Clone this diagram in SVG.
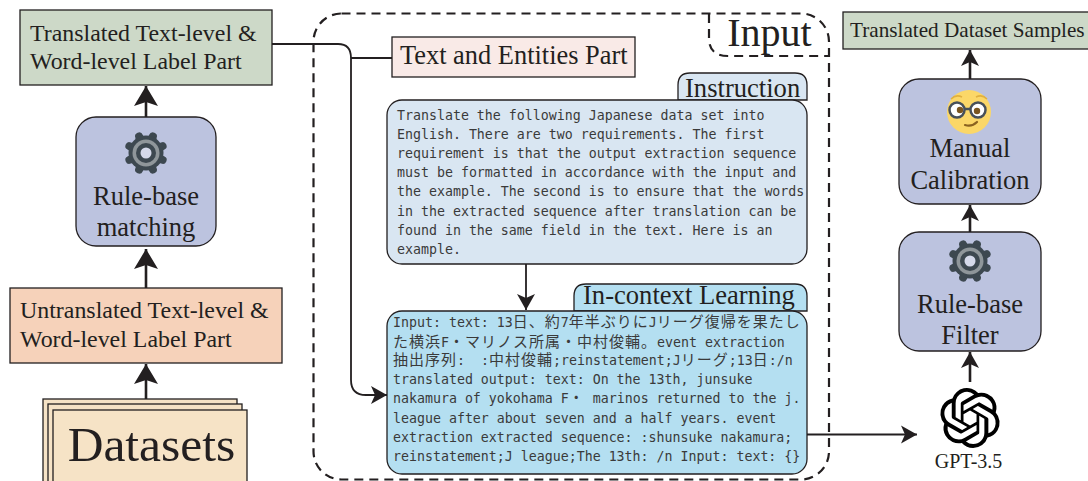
<svg xmlns="http://www.w3.org/2000/svg" width="1088" height="481" viewBox="0 0 1088 481">
<style>
text{font-family:"Liberation Serif","Times New Roman",serif;fill:#231f20}
.c{text-anchor:middle}
.b{stroke:#231f20;stroke-width:1.3}
.green{fill:#cdd9c8}.purple{fill:#bcc3df}.orange{fill:#f6d2ba}.cream{fill:#f6e3c6}.pink{fill:#f9eae7}.pale{fill:#d9e6f2}.sky{fill:#b4dff1}
.m{font-family:"DejaVu Sans Mono","Liberation Mono",monospace;font-size:13.27px;fill:#3a3a3a;white-space:pre}
.j{font-family:"Noto Sans CJK JP",sans-serif;font-size:15px;letter-spacing:1px}
.dash{fill:none;stroke:#231f20;stroke-width:2.2;stroke-dasharray:9 6}
.line{fill:none;stroke:#231f20;stroke-width:1.8}
.thick{fill:none;stroke:#231f20;stroke-width:2.6}
</style>
<defs>
<marker id="big" markerUnits="userSpaceOnUse" markerWidth="22" markerHeight="26" refX="20" refY="13" orient="auto"><path d="M20 13 L0 1 L4 13 L0 25Z" fill="#231f20"/></marker>
<marker id="mid" markerUnits="userSpaceOnUse" markerWidth="18" markerHeight="20" refX="16" refY="10" orient="auto"><path d="M16 10 L0 1 L4 10 L0 19Z" fill="#231f20"/></marker>
<g id="gear">
<g stroke="#3d4850" stroke-width="8" stroke-linecap="round" transform="rotate(22.5)">
<path d="M0-18V18M-18 0H18M-12.700-12.700L12.700 12.700M-12.700 12.700L12.700-12.700"/>
</g>
<circle r="17.500" fill="#3d4850"/>
<circle r="13.500" fill="#8f969a"/>
<circle r="10" fill="#3d4850"/>
<circle r="5.500" fill="#d5d9ea"/>
</g>
</defs>

<g id="connectors">
<path class="thick" d="M146 117V86" marker-end="url(#big)"/>
<path class="thick" d="M146 288V249" marker-end="url(#big)"/>
<path class="thick" d="M146 399V364" marker-end="url(#big)"/>
<path class="line" d="M272 44H338Q351 44 351 58V380Q351 395 366 395H387" marker-end="url(#mid)"/>
<path class="line" d="M351 58H392"/>
<path class="line" d="M526 264V310" marker-end="url(#mid)"/>
<path class="line" d="M807 434.500H917" marker-end="url(#mid)"/>
<path class="thick" d="M970 382V352" marker-end="url(#mid)"/>
<path class="thick" d="M970 232V205" marker-end="url(#mid)"/>
<path class="thick" d="M970 79V50" marker-end="url(#mid)"/>
</g>

<g id="input-frame">
<rect class="dash" x="313.500" y="13.500" width="515.500" height="466" rx="28"/>
<path class="dash" d="M709 14V38Q709 56 728 56H829"/>
<text x="769.500" y="46" class="c" font-size="40">Input</text>
</g>

<g id="translated-labels">
<rect class="green b" x="20" y="10" width="252" height="75"/>
<text x="30" y="41" font-size="23.900">Translated Text-level &amp;</text>
<text x="30" y="69" font-size="23.900">Word-level Label Part</text>
</g>

<g id="rule-matching">
<rect class="purple b" x="76" y="117" width="140" height="129" rx="20"/>
<use href="#gear" x="146" y="153"/>
<text x="146" y="205" class="c" font-size="26.500">Rule-base</text>
<text x="146" y="236" class="c" font-size="26.500">matching</text>
</g>

<g id="untranslated-labels">
<rect class="orange b" x="10" y="288" width="272" height="75"/>
<text x="20" y="318" font-size="23.900">Untranslated Text-level &amp;</text>
<text x="20" y="347" font-size="23.900">Word-level Label Part</text>
</g>

<g id="datasets">
<rect class="cream b" x="43" y="399" width="194" height="90"/>
<rect class="cream b" x="48" y="404" width="194" height="90"/>
<rect class="cream b" x="53" y="410" width="194" height="90"/>
<text x="151.500" y="461" class="c" font-size="49.500">Datasets</text>
</g>

<g id="text-entities">
<rect class="pink b" x="392" y="37" width="243" height="40"/>
<text x="400" y="64" font-size="26.400">Text and Entities Part</text>
</g>

<g id="instruction">
<path class="pale b" d="M678 100V85Q678 73 690 73H795Q807 73 807 85V100Z"/>
<text x="685" y="97" font-size="26.600">Instruction</text>
<rect class="pale b" x="387" y="100" width="420" height="164" rx="15"/>
<text class="m" x="397" y="120">Translate the following Japanese data set into</text>
<text class="m" x="397" y="139">English. There are two requirements. The first</text>
<text class="m" x="397" y="158">requirement is that the output extraction sequence</text>
<text class="m" x="397" y="177">must be formatted in accordance with the input and</text>
<text class="m" x="397" y="196">the example. The second is to ensure that the words</text>
<text class="m" x="397" y="216">in the extracted sequence after translation can be</text>
<text class="m" x="397" y="235">found in the same field in the text. Here is an</text>
<text class="m" x="397" y="254">example.</text>
</g>

<g id="in-context">
<path class="sky b" d="M574 311V296Q574 284 586 284H795Q807 284 807 296V311Z"/>
<text x="583" y="304" font-size="26.600">In-context Learning</text>
<rect class="sky b" x="387" y="311" width="420" height="163" rx="15"/>
<text class="m" x="393" y="327">Input: text: 13<tspan class="j">日、約</tspan>7<tspan class="j">年半ぶりに</tspan>J<tspan class="j">リーグ復帰を果たし</tspan></text>
<text class="m" x="393" y="347"><tspan class="j">た横浜</tspan>F<tspan class="j">・マリノス所属・中村俊輔。</tspan>event extraction</text>
<text class="m" x="393" y="365"><tspan class="j">抽出序列</tspan>:  :<tspan class="j">中村俊輔</tspan>;reinstatement;J<tspan class="j">リーグ</tspan>;13<tspan class="j">日</tspan>:/n</text>
<text class="m" x="393" y="384">translated output: text: On the 13th, junsuke</text>
<text class="m" x="393" y="403">nakamura of yokohama F<tspan class="j">・</tspan> marinos returned to the j.</text>
<text class="m" x="393" y="423">league after about seven and a half years. event</text>
<text class="m" x="393" y="442">extraction extracted sequence: :shunsuke nakamura;</text>
<text class="m" x="393" y="461">reinstatement;J league;The 13th: /n Input: text: {}</text>
</g>

<g id="gpt">
<path transform="translate(940 388) scale(2.5)" fill="#000" d="M22.2819 9.8211a5.9847 5.9847 0 0 0-.5157-4.9108 6.0462 6.0462 0 0 0-6.5098-2.9A6.0651 6.0651 0 0 0 4.9807 4.1818a5.9847 5.9847 0 0 0-3.9977 2.9 6.0462 6.0462 0 0 0 .7427 7.0966 5.98 5.98 0 0 0 .511 4.9107 6.051 6.051 0 0 0 6.5146 2.9001A5.9847 5.9847 0 0 0 13.2599 24a6.0557 6.0557 0 0 0 5.7718-4.2058 5.9894 5.9894 0 0 0 3.9977-2.9001 6.0557 6.0557 0 0 0-.7475-7.0729zm-9.022 12.6081a4.4755 4.4755 0 0 1-2.8764-1.0408l.1419-.0804 4.7783-2.7582a.7948.7948 0 0 0 .3927-.6813v-6.7369l2.02 1.1686a.071.071 0 0 1 .038.052v5.5826a4.504 4.504 0 0 1-4.4945 4.4944zm-9.6607-4.1254a4.4708 4.4708 0 0 1-.5346-3.0137l.142.0852 4.783 2.7582a.7712.7712 0 0 0 .7806 0l5.8428-3.3685v2.3324a.0804.0804 0 0 1-.0332.0615L9.74 19.9502a4.4992 4.4992 0 0 1-6.1408-1.6464zM2.3408 7.8956a4.485 4.485 0 0 1 2.3655-1.9728V11.6a.7664.7664 0 0 0 .3879.6765l5.8144 3.3543-2.0201 1.1685a.0757.0757 0 0 1-.071 0l-4.8303-2.7865A4.504 4.504 0 0 1 2.3408 7.872zm16.5963 3.8558L13.1038 8.364 15.1192 7.2a.0757.0757 0 0 1 .071 0l4.8303 2.7913a4.4944 4.4944 0 0 1-.6765 8.1042v-5.6772a.79.79 0 0 0-.407-.667zm2.0107-3.0231l-.142-.0852-4.7735-2.7818a.7759.7759 0 0 0-.7854 0L9.409 9.2297V6.8974a.0662.0662 0 0 1 .0284-.0615l4.8303-2.7866a4.4992 4.4992 0 0 1 6.6802 4.66zM8.3065 12.863l-2.02-1.1638a.0804.0804 0 0 1-.038-.0567V6.0742a4.4992 4.4992 0 0 1 7.3757-3.4537l-.142.0805L8.704 5.459a.7948.7948 0 0 0-.3927.6813zm1.0976-2.3654l2.602-1.4998 2.6069 1.4998v2.9994l-2.5974 1.4997-2.6067-1.4997Z"/>
<text x="968.500" y="468" class="c" font-size="20">GPT-3.5</text>
</g>

<g id="rule-filter">
<rect class="purple b" x="899" y="232" width="142" height="119" rx="20"/>
<use href="#gear" x="970" y="261"/>
<text x="970" y="313" class="c" font-size="26.500">Rule-base</text>
<text x="970" y="344" class="c" font-size="26.500">Filter</text>
</g>

<g id="manual-calibration">
<rect class="purple b" x="899" y="79" width="142" height="125" rx="20"/>
<circle cx="969" cy="112" r="22" fill="#fbd768"/>
<path d="M951 99Q956 94 962 97M976 97Q982 94 987 99" fill="none" stroke="#e0b040" stroke-width="1.500"/>
<circle cx="957" cy="110" r="7.500" fill="#fff" stroke="#47505a" stroke-width="2.500"/>
<circle cx="978" cy="110" r="7.500" fill="#fff" stroke="#47505a" stroke-width="2.500"/>
<path d="M964.500 109H970.500" stroke="#47505a" stroke-width="2.500"/>
<circle cx="960" cy="110" r="3.200" fill="#7a5520"/>
<circle cx="977" cy="111" r="3.200" fill="#7a5520"/>
<path d="M965 125Q972 127 977 122" fill="none" stroke="#8a6220" stroke-width="2.200" stroke-linecap="round"/>
<text x="970" y="157" class="c" font-size="26.500">Manual</text>
<text x="970" y="189" class="c" font-size="26.500">Calibration</text>
</g>

<g id="translated-samples">
<rect class="green b" x="843" y="12" width="250" height="37"/>
<text x="850" y="37" font-size="21.200">Translated Dataset Samples</text>
</g>
</svg>
